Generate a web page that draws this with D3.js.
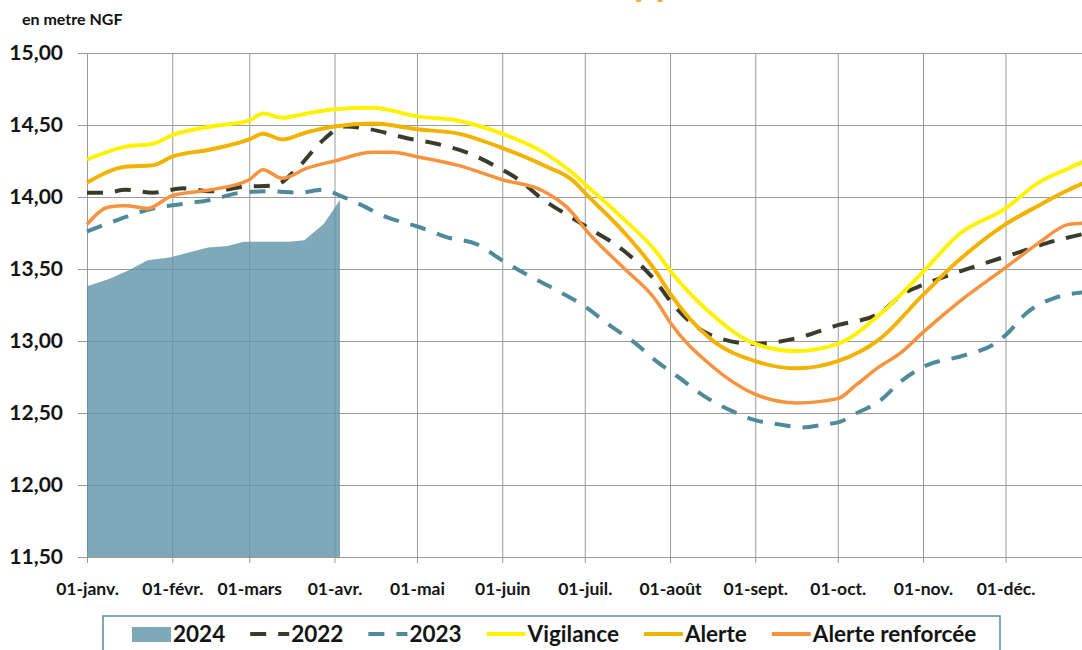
<!DOCTYPE html>
<html>
<head>
<meta charset="utf-8">
<script src="https://cdn.jsdelivr.net/npm/d3@7"></script>
<style>
body { margin: 0; background: #fff; }
svg { display: block; font-family: Lato, "Open Sans", sans-serif; }
</style>
</head>
<body>
<svg id="chart" width="1082" height="650"></svg>
<script>
// tick labels
const yTicks = [11.5, 12, 12.5, 13, 13.5, 14, 14.5, 15];
const monthStarts = ["01-01", "02-01", "03-01", "04-01", "05-01", "06-01", "07-01", "08-01", "09-01", "10-01", "11-01", "12-01"];
const monthLabels = ["01-janv.", "01-févr.", "01-mars", "01-avr.", "01-mai", "01-juin", "01-juil.", "01-août", "01-sept.", "01-oct.", "01-nov.", "01-déc."];

// 2024 (area)
const dates2024 = ["01-01", "01-09", "01-16", "01-23", "01-31", "02-14", "02-21", "02-27", "03-05", "03-15", "03-21", "03-28", "04-03"];
const values2024 = [13.38, 13.43, 13.49, 13.56, 13.58, 13.65, 13.66, 13.69, 13.69, 13.69, 13.70, 13.81, 13.98];

// 2022
const dates2022 = ["01-01", "01-08", "01-15", "01-25", "02-05", "02-15", "02-27", "03-10", "03-19", "03-27", "04-05", "04-14", "04-27", "05-08", "05-19", "05-29", "06-07", "06-16", "06-26", "07-01", "07-15", "07-27", "08-01", "08-16", "09-01", "09-16", "10-01", "10-16", "10-25", "11-01", "11-14", "11-25", "12-05", "12-16", "12-31"];
const values2022 = [14.03, 14.03, 14.05, 14.03, 14.06, 14.04, 14.07, 14.08, 14.21, 14.38, 14.49, 14.47, 14.41, 14.37, 14.31, 14.22, 14.12, 13.98, 13.86, 13.80, 13.63, 13.41, 13.28, 13.04, 12.98, 13.02, 13.11, 13.19, 13.33, 13.39, 13.48, 13.55, 13.61, 13.68, 13.75];

// 2023
const dates2023 = ["01-01", "01-12", "01-25", "02-04", "02-15", "02-26", "03-09", "03-19", "03-28", "04-03", "04-09", "04-20", "05-02", "05-12", "05-23", "06-01", "06-11", "06-20", "07-01", "07-10", "07-19", "07-27", "08-04", "08-14", "08-24", "09-01", "09-10", "09-18", "09-26", "10-02", "10-08", "10-16", "10-24", "11-01", "11-16", "11-27", "12-01", "12-09", "12-19", "12-31"];
const values2023 = [13.76, 13.84, 13.92, 13.95, 13.98, 14.03, 14.04, 14.03, 14.05, 14.01, 13.96, 13.86, 13.79, 13.72, 13.67, 13.56, 13.45, 13.36, 13.24, 13.11, 12.99, 12.86, 12.75, 12.61, 12.51, 12.45, 12.42, 12.40, 12.42, 12.44, 12.50, 12.58, 12.72, 12.82, 12.90, 12.98, 13.04, 13.20, 13.30, 13.34];

// thresholds
const thresholdDates = ["01-01", "01-15", "01-25", "02-01", "02-15", "03-01", "03-06", "03-13", "03-22", "04-01", "04-15", "05-01", "05-16", "06-01", "06-16", "06-27", "07-01", "07-15", "07-27", "08-01", "08-16", "09-01", "09-16", "10-01", "10-16", "11-01", "11-14", "12-01", "12-13", "12-24", "12-31"];
const vigilanceValues = [14.26, 14.35, 14.37, 14.43, 14.49, 14.53, 14.58, 14.55, 14.58, 14.61, 14.62, 14.56, 14.53, 14.44, 14.31, 14.16, 14.09, 13.85, 13.62, 13.49, 13.19, 12.98, 12.93, 12.98, 13.18, 13.48, 13.74, 13.92, 14.10, 14.20, 14.26];
const alerteValues = [14.10, 14.21, 14.22, 14.28, 14.33, 14.40, 14.44, 14.40, 14.45, 14.49, 14.51, 14.47, 14.44, 14.34, 14.22, 14.11, 14.03, 13.76, 13.48, 13.33, 13.01, 12.86, 12.81, 12.86, 13.01, 13.32, 13.56, 13.81, 13.94, 14.05, 14.11];

const renforceeDates = ["01-01", "01-09", "01-15", "01-23", "02-01", "02-15", "03-01", "03-06", "03-13", "03-22", "04-01", "04-15", "04-22", "05-01", "05-16", "06-01", "06-16", "06-27", "07-01", "07-15", "07-27", "08-01", "08-16", "09-01", "09-16", "10-01", "10-08", "10-16", "10-24", "11-01", "11-14", "12-01", "12-13", "12-24", "12-31"];
const renforceeValues = [13.81, 13.93, 13.94, 13.92, 14.01, 14.05, 14.12, 14.19, 14.13, 14.20, 14.25, 14.31, 14.31, 14.28, 14.22, 14.12, 14.04, 13.88, 13.78, 13.51, 13.28, 13.13, 12.83, 12.63, 12.57, 12.60, 12.70, 12.82, 12.92, 13.06, 13.27, 13.51, 13.68, 13.81, 13.82];

const svg = d3.select("#chart");
const margin = {top: 53, left: 87};
const plotRight = 1088, plotBottom = 557;
const gridColor = "#9a9a9a";

const parse = d3.timeParse("%Y-%m-%d");
const day = s => parse("2023-" + s);
const zip = (ds, vs) => ds.map((d, i) => ({date: day(d), value: vs[i]}));

const x = d3.scaleTime().domain([day("01-01"), day("12-31")]).range([margin.left, plotRight]);
const y = d3.scaleLinear().domain([11.5, 15]).range([plotBottom, margin.top]);

const fr = d3.formatLocale({decimal: ",", thousands: " ", grouping: [3], currency: ["", " €"]});
const fmt = fr.format(".2f");

// y axis with horizontal grid
const yAxis = svg.append("g")
    .attr("transform", "translate(" + margin.left + ",0)")
    .call(d3.axisLeft(y).tickValues(yTicks)
        .tickSizeInner(-(plotRight - margin.left)).tickSizeOuter(0)
        .tickPadding(24).tickFormat(fmt));
yAxis.attr("font-family", null).attr("font-size", 21).attr("font-weight", 700);
yAxis.select(".domain").attr("stroke", gridColor);
yAxis.selectAll(".tick line").attr("x1", -9).attr("stroke", gridColor);
yAxis.selectAll(".tick text").attr("fill", "#141414");

// x axis with vertical grid
const xAxis = svg.append("g")
    .attr("transform", "translate(0," + plotBottom + ")")
    .call(d3.axisBottom(x).tickValues(monthStarts.map(day))
        .tickSizeInner(-(plotBottom - margin.top)).tickSizeOuter(0)
        .tickPadding(26).tickFormat((d, i) => monthLabels[i]));
xAxis.attr("font-family", null).attr("font-size", 17.5).attr("font-weight", 700);
xAxis.select(".domain").attr("stroke", gridColor);
xAxis.selectAll(".tick line").attr("y1", 6).attr("stroke", gridColor);
xAxis.selectAll(".tick text").attr("fill", "#141414");

// 2024 area
const area = d3.area()
    .x(d => x(d.date))
    .y0(y(11.5))
    .y1(d => y(d.value));

svg.append("path")
    .datum(zip(dates2024, values2024))
    .attr("d", area)
    .attr("fill", "#5f94a6")
    .attr("fill-opacity", 0.8);

const line = d3.line()
    .x(d => x(d.date))
    .y(d => y(d.value))
    .curve(d3.curveMonotoneX);

const series = [
    {data: zip(dates2022, values2022), color: "#3b3b2c", width: 4, dash: "16,12"},
    {data: zip(dates2023, values2023), color: "#4f8a9b", width: 4, dash: "16,12"},
    {data: zip(thresholdDates, vigilanceValues), color: "#fff200", width: 4, dash: null},
    {data: zip(thresholdDates, alerteValues), color: "#f2b200", width: 4, dash: null},
    {data: zip(renforceeDates, renforceeValues), color: "#f7923e", width: 3.5, dash: null}
];

for (let s of series) {
    svg.append("path")
        .datum(s.data)
        .attr("d", line)
        .attr("fill", "none")
        .attr("stroke", s.color)
        .attr("stroke-width", s.width)
        .attr("stroke-dasharray", s.dash);
}

// unit label and cut title
svg.append("text")
    .attr("x", 22).attr("y", 25)
    .attr("font-size", 16).attr("font-weight", 700)
    .attr("fill", "#111")
    .text("en metre NGF");

svg.append("text")
    .attr("x", 634).attr("y", -4)
    .attr("font-size", 38).attr("font-weight", 700)
    .attr("fill", "#eeb12f")
    .text("pp");

// legend
const legend = svg.append("g");
legend.append("rect")
    .attr("x", 103).attr("y", 616)
    .attr("width", 897).attr("height", 60)
    .attr("fill", "#fff")
    .attr("stroke", "#5b8a99").attr("stroke-width", 1.5);

const legendItems = [
    {label: "2024", type: "area", color: "#5f94a6"},
    {label: "2022", type: "line", color: "#3b3b2c", dash: "16,12"},
    {label: "2023", type: "line", color: "#4f8a9b", dash: "16,12"},
    {label: "Vigilance", type: "line", color: "#fff200"},
    {label: "Alerte", type: "line", color: "#f2b200"},
    {label: "Alerte renforcée", type: "line", color: "#f7923e"}
];

let lx = 132;
for (let it of legendItems) {
    if (it.type == "area") {
        legend.append("rect")
            .attr("x", lx).attr("y", 627)
            .attr("width", 39).attr("height", 15)
            .attr("fill", it.color).attr("fill-opacity", 0.8);
    }
    else {
        legend.append("line")
            .attr("x1", lx).attr("x2", lx + 39)
            .attr("y1", 634).attr("y2", 634)
            .attr("stroke", it.color).attr("stroke-width", 4)
            .attr("stroke-dasharray", it.dash || null);
    }
    let t = legend.append("text")
        .attr("x", lx + 41).attr("y", 642)
        .attr("font-size", 22.5).attr("font-weight", 700)
        .attr("fill", "#141414")
        .text(it.label);
    lx += 41 + t.node().getComputedTextLength() + 25;
}
</script>
</body>
</html>
